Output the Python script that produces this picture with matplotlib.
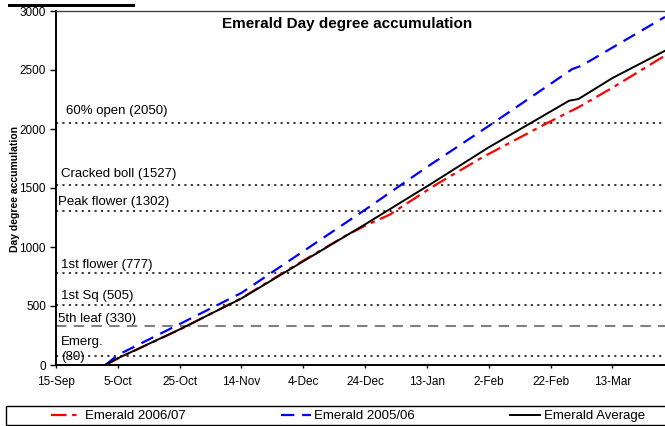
import pandas as pd
import matplotlib.pyplot as plt
import matplotlib.patches as patches
from matplotlib.lines import Line2D
from matplotlib.transforms import blended_transform_factory

plt.rcParams['font.family'] = ['Liberation Sans', 'DejaVu Sans']

# Season data (day degree accumulation)
dates_0607 = ['2007-10-01', '2007-10-05', '2007-10-25', '2007-11-14', '2007-12-04', '2007-12-18',
              '2007-12-24', '2008-01-01', '2008-01-03', '2008-01-16', '2008-01-31', '2008-02-21',
              '2008-03-02', '2008-03-13', '2008-03-29', '2008-03-30']
dd_0607 = [0, 55, 300, 567, 885, 1100, 1180, 1275, 1310, 1530, 1761, 2052, 2184, 2350, 2606, 2620]

dates_0506 = ['2007-10-01', '2007-10-05', '2007-10-25', '2007-11-14', '2007-12-04', '2007-12-24',
              '2008-01-13', '2008-02-02', '2008-02-29', '2008-03-03', '2008-03-13', '2008-03-30']
dd_0506 = [0, 85, 347, 611, 964, 1316, 1678, 2026, 2508, 2536, 2690, 2950]

dates_avg = ['2007-10-01', '2007-10-05', '2007-10-25', '2007-11-14', '2007-12-04', '2007-12-24',
             '2008-01-14', '2008-02-02', '2008-02-16', '2008-02-28', '2008-03-02', '2008-03-13',
             '2008-03-30']
dd_avg = [0, 57, 302, 564, 879, 1192, 1530, 1845, 2057, 2240, 2254, 2432, 2663]

# Crop stages
stage_names = ['Emerg.\n(80)', '5th leaf (330)', '1st Sq (505)', '1st flower (777)',
               'Peak flower (1302)', 'Cracked boll (1527)', '60% open (2050)']
stage_values = [80, 330, 505, 777, 1302, 1527, 2050]
# label placement (pixels from the axis / from the line)
stage_dx = [5, 2, 5, 5, 2, 5, 10]
stage_dy = [6, 7, 9.5, 8, 9.5, 11, 12]

tick_labels = ['15-Sep', '5-Oct', '25-Oct', '14-Nov', '4-Dec', '24-Dec',
               '13-Jan', '2-Feb', '22-Feb', '13-Mar']
tick_dates = pd.date_range('2007-09-15', periods=len(tick_labels), freq='20D')

W, H = 665, 426
fig = plt.figure(figsize=(W / 100, H / 100), dpi=100)
ax = fig.add_axes([56 / W, 61 / H, 609 / W, 354 / H])

# Stage reference lines
for name, val, dx, dy in zip(stage_names, stage_values, stage_dx, stage_dy):
    if val == 330:
        ax.axhline(val, color='#808080', lw=1.5, dashes=(5, 3.5), zorder=1)
    else:
        ax.axhline(val, color='black', lw=1.1, dashes=(1.4, 2.8), zorder=1)
    trans = blended_transform_factory(ax.transAxes, ax.transData)
    ax.annotate(name, xy=(0, val), xycoords=trans, xytext=(dx, dy),
                textcoords='offset pixels', ha='left', va='center',
                fontsize=9.5, linespacing=1.3)

# Series
ax.plot(pd.to_datetime(dates_0607), dd_0607, color='#ff0000', lw=1.6,
        dashes=(7, 2.5, 2, 2.5), zorder=3)
ax.plot(pd.to_datetime(dates_0506), dd_0506, color='#0000ff', lw=1.6,
        dashes=(6, 3.5), zorder=4)
ax.plot(pd.to_datetime(dates_avg), dd_avg, color='black', lw=1.4, zorder=5)

ax.set_xlim(pd.Timestamp('2007-09-15'), pd.Timestamp('2008-03-30'))
ax.set_ylim(0, 3000)
ax.set_yticks(range(0, 3001, 500))
ax.set_xticks(tick_dates)
ax.set_xticklabels(tick_labels)

ax.spines['right'].set_visible(False)
ax.spines['top'].set_color('#404040')
ax.spines['top'].set_linewidth(1.0)
ax.spines['left'].set_linewidth(1.4)
ax.spines['bottom'].set_linewidth(1.4)
ax.tick_params(axis='y', direction='out', length=4.3, width=1, pad=3, labelsize=8.5)
ax.tick_params(axis='x', direction='out', length=2.5, width=1, pad=5.5, labelsize=8.5)

# Titles
fig.text(347 / W, 1 - 28 / H, 'Emerald Day degree accumulation', ha='center', va='baseline',
         fontsize=11, fontweight='bold')
fig.text(15 / W, 1 - 189 / H, 'Day degree accumulation', rotation=90, ha='center',
         va='center', fontsize=7.5, fontweight='bold')

# Underline of the page heading (cut off above)
fig.patches.append(patches.Rectangle((8 / W, 1 - 7 / H), 127 / W, 3 / H,
                                     transform=fig.transFigure, facecolor='black',
                                     edgecolor='none'))

# Legend
handles = [Line2D([], [], color='#ff0000', lw=1.6, dashes=(7, 2.5, 2, 2.5)),
           Line2D([], [], color='#0000ff', lw=1.6, dashes=(6, 3.5)),
           Line2D([], [], color='black', lw=1.4)]
labels = ['Emerald 2006/07', 'Emerald 2005/06', 'Emerald Average']
fig.legend(handles, labels, ncol=3, loc='center', bbox_to_anchor=(348 / W, 1 - 416 / H),
           frameon=False, fontsize=9.5, handlelength=2.3, handletextpad=0.25,
           columnspacing=7.2)
fig.patches.append(patches.Rectangle((6 / W, 1 / H), 700 / W, 19 / H,
                                     transform=fig.transFigure, fill=False,
                                     edgecolor='black', lw=1))

fig.savefig('out.png', dpi=100, facecolor='white')
